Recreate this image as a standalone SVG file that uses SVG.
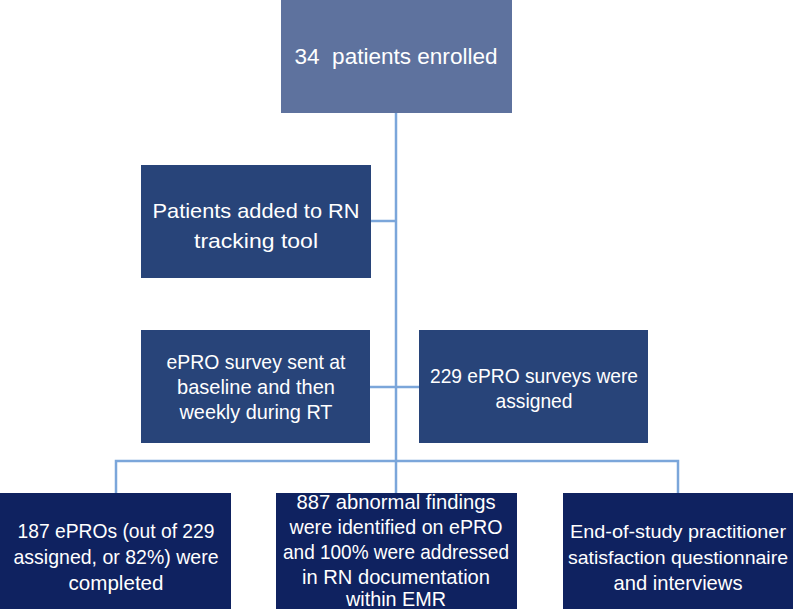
<svg xmlns="http://www.w3.org/2000/svg" width="793" height="609" viewBox="0 0 793 609">
<style>
.c{stroke:#7ba6da;stroke-width:2.5;fill:none}
.t{font-family:"Liberation Sans",Arial,sans-serif;fill:#ffffff;text-anchor:middle;font-size:21px}
.h{font-size:22px}
.s{font-size:19px}
.top{fill:#5e729e}
.mid{fill:#284479}
.bot{fill:#0f2260}
</style>
<rect width="793" height="609" fill="#ffffff"/>
<g id="connectors">
<path class="c" d="M396 113V461"/>
<path class="c" d="M371 221H396"/>
<path class="c" d="M370 387H419"/>
<path class="c" d="M116 493V461H678V493"/>
<path class="c" d="M396 461V493"/>
</g>
<g id="n1"><rect class="top" x="281" y="0" width="231" height="113"/>
<text class="t h" x="396" y="64" textLength="203" lengthAdjust="spacingAndGlyphs" xml:space="preserve">34  patients enrolled</text></g>
<g id="n2"><rect class="mid" x="141" y="165" width="230" height="113"/>
<text class="t" x="256" y="218" textLength="207" lengthAdjust="spacingAndGlyphs">Patients added to RN</text>
<text class="t" x="256" y="248" textLength="124" lengthAdjust="spacingAndGlyphs">tracking tool</text></g>
<g id="n3"><rect class="mid" x="141" y="330" width="229" height="113"/>
<text class="t" x="256" y="369" textLength="179" lengthAdjust="spacingAndGlyphs">ePRO survey sent at</text>
<text class="t" x="256" y="394" textLength="158" lengthAdjust="spacingAndGlyphs">baseline and then</text>
<text class="t" x="256" y="419" textLength="153" lengthAdjust="spacingAndGlyphs">weekly during RT</text></g>
<g id="n4"><rect class="mid" x="419" y="330" width="229" height="113"/>
<text class="t" x="534" y="383" textLength="208" lengthAdjust="spacingAndGlyphs">229 ePRO surveys were</text>
<text class="t" x="534" y="408" textLength="77" lengthAdjust="spacingAndGlyphs">assigned</text></g>
<g id="n5"><rect class="bot" x="0" y="493" width="231" height="116"/>
<text class="t" x="116" y="538" textLength="197" lengthAdjust="spacingAndGlyphs">187 ePROs (out of 229</text>
<text class="t" x="116" y="564" textLength="205" lengthAdjust="spacingAndGlyphs">assigned, or 82%) were</text>
<text class="t" x="116" y="590" textLength="95" lengthAdjust="spacingAndGlyphs">completed</text></g>
<g id="n6"><rect class="bot" x="276" y="493" width="241" height="116"/>
<text class="t" x="396" y="509" textLength="199" lengthAdjust="spacingAndGlyphs">887 abnormal findings</text>
<text class="t" x="396" y="534" textLength="213" lengthAdjust="spacingAndGlyphs">were identified on ePRO</text>
<text class="t" x="396" y="559" textLength="226" lengthAdjust="spacingAndGlyphs">and 100% were addressed</text>
<text class="t" x="396" y="584" textLength="188" lengthAdjust="spacingAndGlyphs">in RN documentation</text>
<text class="t" x="396" y="606" textLength="100" lengthAdjust="spacingAndGlyphs">within EMR</text></g>
<g id="n7"><rect class="bot" x="563" y="493" width="230" height="116"/>
<text class="t s" x="678" y="538" textLength="216" lengthAdjust="spacingAndGlyphs">End-of-study practitioner</text>
<text class="t s" x="678" y="564" textLength="220" lengthAdjust="spacingAndGlyphs">satisfaction questionnaire</text>
<text class="t" x="678" y="590" textLength="129" lengthAdjust="spacingAndGlyphs">and interviews</text></g>
</svg>
